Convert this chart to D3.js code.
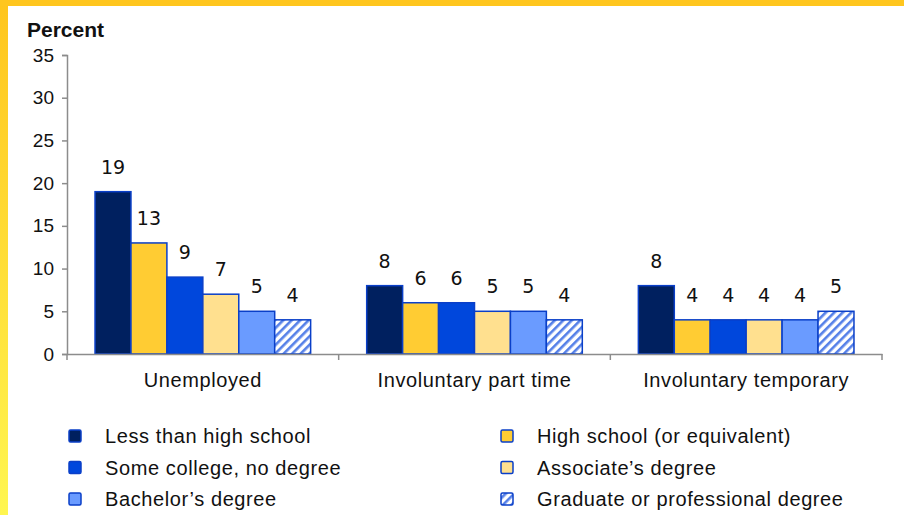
<!DOCTYPE html>
<html>
<head>
<meta charset="utf-8">
<script src="https://cdn.jsdelivr.net/npm/d3@7"></script>
<style>
  body { margin: 0; background: #fff; }
  svg { display: block; font-family: "Liberation Sans", Arial, sans-serif; }
</style>
</head>
<body>
<div id="chart"></div>
<script>
var categories = ['Unemployed', 'Involuntary part time', 'Involuntary temporary']
  , seriesNames = ['Less than high school', 'High school (or equivalent)', 'Some college, no degree',
                   'Associate\u2019s degree', 'Bachelor\u2019s degree', 'Graduate or professional degree']
  , lessThanHS = [19, 8, 8]
  , highSchool = [13, 6, 4]
  , someCollege = [9, 6, 4]
  , associate = [7, 5, 4]
  , bachelor = [5, 5, 4]
  , graduate = [4, 4, 5]
  , yTicks = [0, 5, 10, 15, 20, 25, 30, 35]
;

var seriesValues = [lessThanHS, highSchool, someCollege, associate, bachelor, graduate]
  , fills = ['#00205f', '#ffcc33', '#0047dc', '#ffe08f', '#6a9bff', 'url(#hatch)']
  , width = 904
  , height = 515
  , margin = { top: 55, left: 67, right: 22, bottom: 161 }
;

var svg = d3.select('#chart').append('svg')
  .attr('width', width)
  .attr('height', height);

var defs = svg.append('defs');

var grad = defs.append('linearGradient')
  .attr('id', 'sideGrad')
  .attr('x1', 0).attr('y1', 0).attr('x2', 0).attr('y2', 1);
grad.append('stop').attr('offset', '0%').attr('stop-color', '#ffc51c');
grad.append('stop').attr('offset', '100%').attr('stop-color', '#fff650');

var hatch = defs.append('pattern')
  .attr('id', 'hatch')
  .attr('patternUnits', 'userSpaceOnUse')
  .attr('width', 6).attr('height', 6)
  .attr('patternTransform', 'rotate(45)');
hatch.append('rect').attr('width', 6).attr('height', 6).attr('fill', '#fff');
hatch.append('rect').attr('width', 2.6).attr('height', 6).attr('fill', '#5580e8');

// frame bands
svg.append('rect').attr('x', 0).attr('y', 0).attr('width', 8).attr('height', height)
  .attr('fill', 'url(#sideGrad)');
svg.append('rect').attr('x', 0).attr('y', 0).attr('width', width).attr('height', 6)
  .attr('fill', '#ffc61e');

var x0 = d3.scaleBand()
  .domain(categories)
  .range([margin.left, width - margin.right])
  .paddingInner(0)
  .paddingOuter(0);

var x1 = d3.scaleBand()
  .domain(d3.range(seriesNames.length))
  .range([0, x0.bandwidth()])
  .paddingOuter(0.78)
  .paddingInner(0);

var y = d3.scaleLinear()
  .domain([0, 35])
  .range([height - margin.bottom, margin.top]);

// y axis
var yAxis = svg.append('g')
  .attr('transform', 'translate(' + margin.left + ',0)')
  .call(d3.axisLeft(y).tickValues(yTicks).tickSize(5).tickPadding(8));
yAxis.select('.domain').attr('stroke', '#8c8c8c').attr('stroke-width', 1.5);
yAxis.selectAll('.tick line').attr('stroke', '#8c8c8c').attr('stroke-width', 1.5);
yAxis.selectAll('.tick text')
  .attr('font-size', 19).attr('fill', '#111')
  .attr('font-family', '"Liberation Sans Narrow", "Liberation Sans", Arial, sans-serif');

svg.append('text')
  .attr('x', 27).attr('y', 37)
  .attr('font-size', 21).attr('font-weight', 'bold')
  .attr('font-family', '"Liberation Sans Narrow", "Liberation Sans", Arial, sans-serif')
  .attr('fill', '#111')
  .text('Percent');

// bars
var groups = svg.selectAll('g.cat')
  .data(categories)
  .enter().append('g')
  .attr('class', 'cat')
  .attr('transform', function (c) { return 'translate(' + x0(c) + ',0)'; });

groups.selectAll('rect')
  .data(function (c, ci) {
    return seriesValues.map(function (vals, si) { return { s: si, v: vals[ci] }; });
  })
  .enter().append('rect')
  .attr('x', function (d) { return x1(d.s); })
  .attr('y', function (d) { return y(d.v); })
  .attr('width', x1.bandwidth())
  .attr('height', function (d) { return y(0) - y(d.v); })
  .attr('fill', function (d) { return fills[d.s]; })
  .attr('stroke', '#0a3fc8')
  .attr('stroke-width', 1.5);

groups.selectAll('text.val')
  .data(function (c, ci) {
    return seriesValues.map(function (vals, si) { return { s: si, v: vals[ci] }; });
  })
  .enter().append('text')
  .attr('class', 'val')
  .attr('x', function (d) { return x1(d.s) + x1.bandwidth() / 2; })
  .attr('y', function (d) { return y(d.v) - 18; })
  .attr('text-anchor', 'middle')
  .attr('font-size', 19)
  .attr('font-family', '"DejaVu Sans", sans-serif')
  .attr('fill', '#111')
  .text(function (d) { return d.v; });

// x axis
var xAxis = svg.append('g')
  .attr('transform', 'translate(0,' + y(0) + ')')
  .call(d3.axisBottom(x0).tickSize(0).tickPadding(19));
xAxis.select('.domain').attr('stroke', '#8c8c8c').attr('stroke-width', 1.5);
xAxis.selectAll('.tick text').attr('font-size', 20).attr('fill', '#111')
  .attr('letter-spacing', 0.6)
  .attr('font-family', '"Liberation Sans", Arial, sans-serif');

var bounds = categories.map(function (c) { return x0(c); }).concat([x0.range()[1]]);
xAxis.selectAll('line.sep')
  .data(bounds)
  .enter().append('line')
  .attr('class', 'sep')
  .attr('x1', function (d) { return d; }).attr('x2', function (d) { return d; })
  .attr('y1', 0).attr('y2', 6)
  .attr('stroke', '#8c8c8c').attr('stroke-width', 1.5);

// legend
var legend = svg.selectAll('g.leg')
  .data(seriesNames)
  .enter().append('g')
  .attr('class', 'leg')
  .attr('transform', function (d, i) {
    return 'translate(' + (i % 2 ? 507 : 75) + ',' + (436 + Math.floor(i / 2) * 31.5) + ')';
  });

legend.append('rect')
  .attr('x', -6).attr('y', -6).attr('width', 12).attr('height', 12)
  .attr('rx', 1.5)
  .attr('fill', function (d, i) { return fills[i]; })
  .attr('stroke', '#0a3fc8').attr('stroke-width', 1.5);

legend.append('text')
  .attr('x', 30).attr('y', 7)
  .attr('font-size', 20).attr('fill', '#111')
  .attr('letter-spacing', 0.6)
  .attr('font-family', '"Liberation Sans", Arial, sans-serif')
  .text(function (d) { return d; });
</script>
</body>
</html>
